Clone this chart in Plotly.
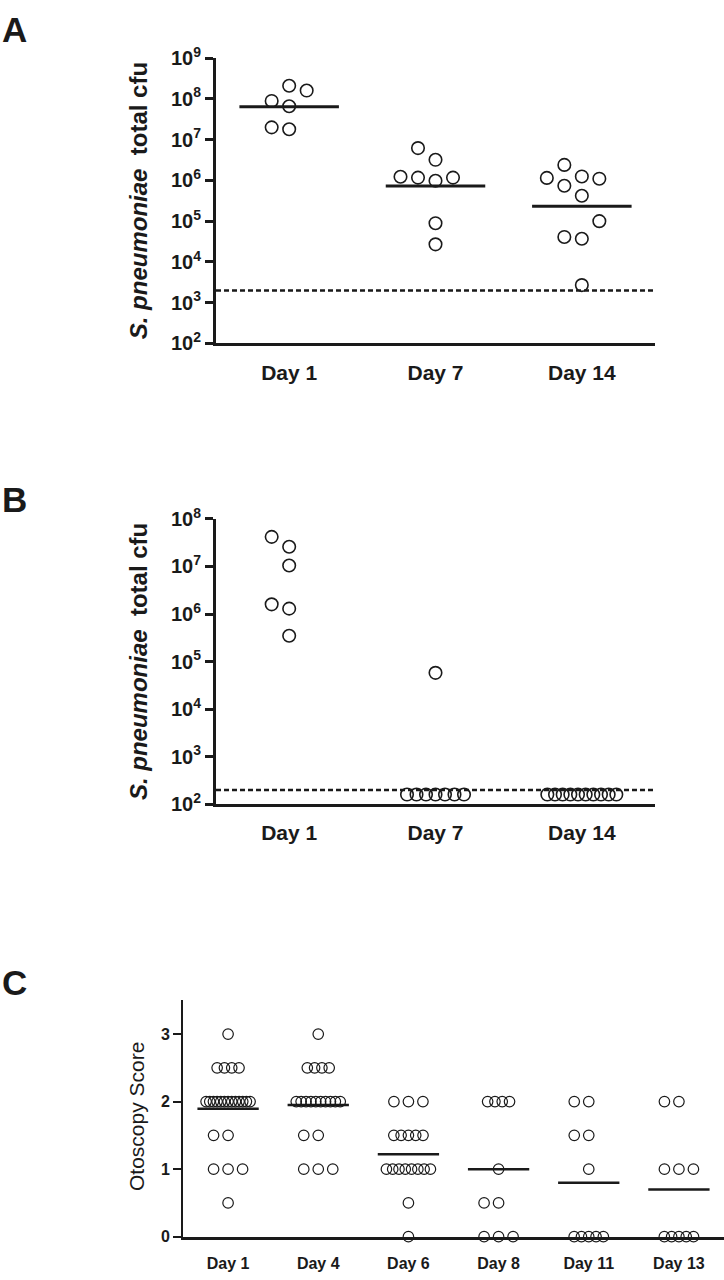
import plotly.graph_objects as go
import numpy as np
from collections import Counter

W, H = 724, 1280

# ---------------- data ----------------
# Panel A: S. pneumoniae total cfu (log scale)
a_days = ["Day 1", "Day 7", "Day 14"]
a_day1 = [2.1e8, 1.6e8, 8.9e7, 6.6e7, 2.0e7, 1.8e7]
a_day7 = [6.2e6, 3.2e6, 1.17e6, 9.8e5, 1.17e6, 1.23e6, 8.9e4, 2.7e4]
a_day14 = [2.4e6, 1.25e6, 1.1e6, 1.15e6, 7.4e5, 4.2e5, 1.0e5, 4.1e4, 3.7e4, 2.7e3]
a_limit = 2000
a_ticks = [1e2, 1e3, 1e4, 1e5, 1e6, 1e7, 1e8, 1e9]

# Panel B: S. pneumoniae total cfu (log scale)
b_days = ["Day 1", "Day 7", "Day 14"]
b_day1 = [4.2e7, 2.6e7, 1.05e7, 1.6e6, 1.3e6, 3.5e5]
b_day7 = [5.8e4, 160, 160, 160, 160, 160, 160, 160]
b_day14 = [160, 160, 160, 160, 160, 160, 160, 160, 160, 160]
b_limit = 200
b_ticks = [1e2, 1e3, 1e4, 1e5, 1e6, 1e7, 1e8]

# Panel C: Otoscopy score
c_days = ["Day 1", "Day 4", "Day 6", "Day 8", "Day 11", "Day 13"]
c_day1 = [3.0, 2.5, 2.5, 2.5, 2.5,
          2.0, 2.0, 2.0, 2.0, 2.0, 2.0, 2.0, 2.0, 2.0, 2.0, 2.0, 2.0, 2.0,
          1.5, 1.5, 1.0, 1.0, 1.0, 0.5]
c_day4 = [3.0, 2.5, 2.5, 2.5, 2.5,
          2.0, 2.0, 2.0, 2.0, 2.0, 2.0, 2.0, 2.0, 2.0, 2.0,
          1.5, 1.5, 1.0, 1.0, 1.0]
c_day6 = [2.0, 2.0, 2.0, 1.5, 1.5, 1.5, 1.5, 1.5,
          1.0, 1.0, 1.0, 1.0, 1.0, 1.0, 1.0, 1.0, 0.5, 0.0]
c_day8 = [2.0, 2.0, 2.0, 2.0, 1.0, 0.5, 0.5, 0.0, 0.0, 0.0]
c_day11 = [2.0, 2.0, 1.5, 1.5, 1.0, 0.0, 0.0, 0.0, 0.0, 0.0]
c_day13 = [2.0, 2.0, 1.0, 1.0, 1.0, 0.0, 0.0, 0.0, 0.0, 0.0]
c_ticks = [0, 1, 2, 3]

# ---------------- styling / geometry ----------------
FONT = "Liberation Sans, Arial, Helvetica, sans-serif"
INK = "#1a1a1a"


def px_x(p):
    return p / W


def px_y(p):
    return 1 - p / H


# pixel geometry of the three plot areas
A_X = (216, 655); A_Y = (45, 336)
B_X = (216, 655); B_Y = (515, 806)
C_X = (183, 724); C_Y = (1006, 1247)

A_CAT = (A_X[1] - A_X[0]) / 3.0
C_CAT = (C_X[1] - C_X[0]) / 6.0
A_DEC = (A_Y[1] - A_Y[0]) / 7.0
B_DEC = (B_Y[1] - B_Y[0]) / 6.0
C_UNIT = (C_Y[1] - C_Y[0]) / 3.5


def swarm(vals, to_u, slot, thresh, max_slot, dense_gap=8.0, dense_span=60.0, dense_min=4):
    """Beeswarm-like horizontal offsets (in pixels) for one column."""
    u = [to_u(v) for v in vals]
    n = len(vals)
    off = [None] * n
    placed = []
    cnt = Counter(vals)
    for v, c in cnt.items():
        if c >= dense_min:
            gap = min(dense_gap, dense_span / (c - 1))
            idx = [i for i in range(n) if vals[i] == v]
            for k, i in enumerate(idx):
                off[i] = (k - (c - 1) / 2.0) * gap
                placed.append((off[i], u[i]))
    rest = sorted([i for i in range(n) if off[i] is None], key=lambda i: u[i])
    order = [0]
    for j in range(1, max_slot + 1):
        order += [-j, j]
    for i in rest:
        best, best_d = None, -1.0
        for s in order:
            x = s * slot
            ds = [abs(u[i] - pu) for pxx, pu in placed if abs(pxx - x) < 0.9 * slot]
            d = min(ds) if ds else 1e9
            if d >= thresh:
                best = x
                break
            if d > best_d:
                best_d, best = d, x
        off[i] = best
        placed.append((best, u[i]))
    return off


fig = go.Figure()

MARK_AB = dict(symbol="circle-open", size=12.5, color=INK, line=dict(width=1.6, color=INK))
MARK_C = dict(symbol="circle-open", size=10.5, color=INK, line=dict(width=1.2, color=INK))

# ---- Panel A ----
for i, vals in enumerate([a_day1, a_day7, a_day14]):
    off = swarm(vals, lambda v: np.log10(v) * A_DEC, 17.5, 18.5, 2)
    fig.add_trace(go.Scatter(x=[i + o / A_CAT for o in off], y=vals, mode="markers",
                             marker=MARK_AB, xaxis="x", yaxis="y", cliponaxis=False,
                             showlegend=False, hoverinfo="y"))
    gm = 10 ** np.mean(np.log10(vals))
    fig.add_trace(go.Scatter(x=[i - 0.34, i + 0.34], y=[gm, gm], mode="lines",
                             line=dict(color=INK, width=3), xaxis="x", yaxis="y",
                             showlegend=False, hoverinfo="skip"))
fig.add_trace(go.Scatter(x=[-0.5, 2.5], y=[a_limit, a_limit], mode="lines",
                         line=dict(color=INK, width=2.5, dash="5px,3px"),
                         xaxis="x", yaxis="y", showlegend=False, hoverinfo="skip"))

# ---- Panel B ----
for i, vals in enumerate([b_day1, b_day7, b_day14]):
    off = swarm(vals, lambda v: np.log10(v) * B_DEC, 17.5, 18.5, 2, dense_gap=9.5, dense_span=69)
    fig.add_trace(go.Scatter(x=[i + o / A_CAT for o in off], y=vals, mode="markers",
                             marker=MARK_AB, xaxis="x2", yaxis="y2", cliponaxis=False,
                             showlegend=False, hoverinfo="y"))
fig.add_trace(go.Scatter(x=[-0.5, 2.5], y=[b_limit, b_limit], mode="lines",
                         line=dict(color=INK, width=2.5, dash="5px,3px"),
                         xaxis="x2", yaxis="y2", showlegend=False, hoverinfo="skip"))

# ---- Panel C ----
for i, vals in enumerate([c_day1, c_day4, c_day6, c_day8, c_day11, c_day13]):
    off = swarm(vals, lambda v: v * C_UNIT, 14.5, 20, 2, dense_gap=7.3, dense_span=44)
    fig.add_trace(go.Scatter(x=[i + o / C_CAT for o in off], y=vals, mode="markers",
                             marker=MARK_C, xaxis="x3", yaxis="y3", cliponaxis=False,
                             showlegend=False, hoverinfo="y"))
    m = float(np.mean(vals))
    fig.add_trace(go.Scatter(x=[i - 0.34, i + 0.34], y=[m, m], mode="lines",
                             line=dict(color=INK, width=2.5), xaxis="x3", yaxis="y3",
                             showlegend=False, hoverinfo="skip"))


def log_ticktext(ticks):
    return ["<b>10<sup>%d</sup></b>" % int(round(np.log10(t))) for t in ticks]


common_x = dict(showline=True, linecolor=INK, zeroline=False, showgrid=False,
                ticks="", tickfont=dict(family=FONT, size=21, color=INK))
common_y = dict(showline=True, linecolor=INK, zeroline=False, showgrid=False,
                ticks="outside", tickcolor=INK, tickfont=dict(family=FONT, size=20, color=INK))

fig.update_layout(
    width=W, height=H, margin=dict(l=0, r=0, t=0, b=0),
    paper_bgcolor="white", plot_bgcolor="white",
    font=dict(family=FONT, color=INK),
    xaxis=dict(common_x, domain=[px_x(A_X[0]), px_x(A_X[1])], range=[-0.5, 2.5],
               tickvals=[0, 1, 2], ticktext=["<b>%s</b>" % d for d in a_days],
               linewidth=3, anchor="y", ticklabelstandoff=8),
    yaxis=dict(common_y, domain=[px_y(A_Y[1]), px_y(A_Y[0])], type="log", range=[2, 9],
               tickvals=a_ticks, ticktext=log_ticktext(a_ticks), linewidth=3,
               ticklen=8, tickwidth=2.5, anchor="x"),
    xaxis2=dict(common_x, domain=[px_x(B_X[0]), px_x(B_X[1])], range=[-0.5, 2.5],
                tickvals=[0, 1, 2], ticktext=["<b>%s</b>" % d for d in b_days],
                linewidth=3, anchor="y2", ticklabelstandoff=8),
    yaxis2=dict(common_y, domain=[px_y(B_Y[1]), px_y(B_Y[0])], type="log", range=[2, 8],
                tickvals=b_ticks, ticktext=log_ticktext(b_ticks), linewidth=3,
                ticklen=8, tickwidth=2.5, anchor="x2"),
    xaxis3=dict(common_x, domain=[px_x(C_X[0]), px_x(C_X[1])], range=[-0.5, 5.5],
                tickvals=list(range(6)), ticktext=["<b>%s</b>" % d for d in c_days],
                tickfont=dict(family=FONT, size=16, color=INK),
                linewidth=3, anchor="y3", ticklabelstandoff=10),
    yaxis3=dict(common_y, domain=[px_y(C_Y[1]), px_y(C_Y[0])], range=[0, 3.5],
                tickvals=c_ticks, ticktext=["<b>%d</b>" % t for t in c_ticks],
                tickfont=dict(family=FONT, size=16, color=INK), linewidth=2,
                ticklen=8, tickwidth=2, anchor="x3"),
)

annotations = [
    dict(text="<b>A</b>", x=px_x(0), y=px_y(16), xanchor="left", yanchor="middle",
         font=dict(size=35)),
    dict(text="<b>B</b>", x=px_x(0), y=px_y(495), xanchor="left", yanchor="middle",
         font=dict(size=35)),
    dict(text="<b>C</b>", x=px_x(0), y=px_y(988), xanchor="left", yanchor="middle",
         font=dict(size=35)),
    dict(text="<b><i>S. pneumoniae</i>\u00a0\u00a0total cfu</b>", x=px_x(138), y=px_y(191),
         xanchor="center", yanchor="middle", textangle=-90, font=dict(size=24)),
    dict(text="<b><i>S. pneumoniae</i>\u00a0\u00a0total cfu</b>", x=px_x(138), y=px_y(661),
         xanchor="center", yanchor="middle", textangle=-90, font=dict(size=24)),
    dict(text="Otoscopy Score", x=px_x(136), y=px_y(1125),
         xanchor="center", yanchor="middle", textangle=-90, font=dict(size=21)),
]
for a in annotations:
    a.update(xref="paper", yref="paper", showarrow=False)
    a["font"].update(family=FONT, color=INK)
fig.update_layout(annotations=annotations)

fig.write_html("out.html", config={"displayModeBar": False},
               post_script="document.body.style.margin='0';document.body.style.padding='0';")
